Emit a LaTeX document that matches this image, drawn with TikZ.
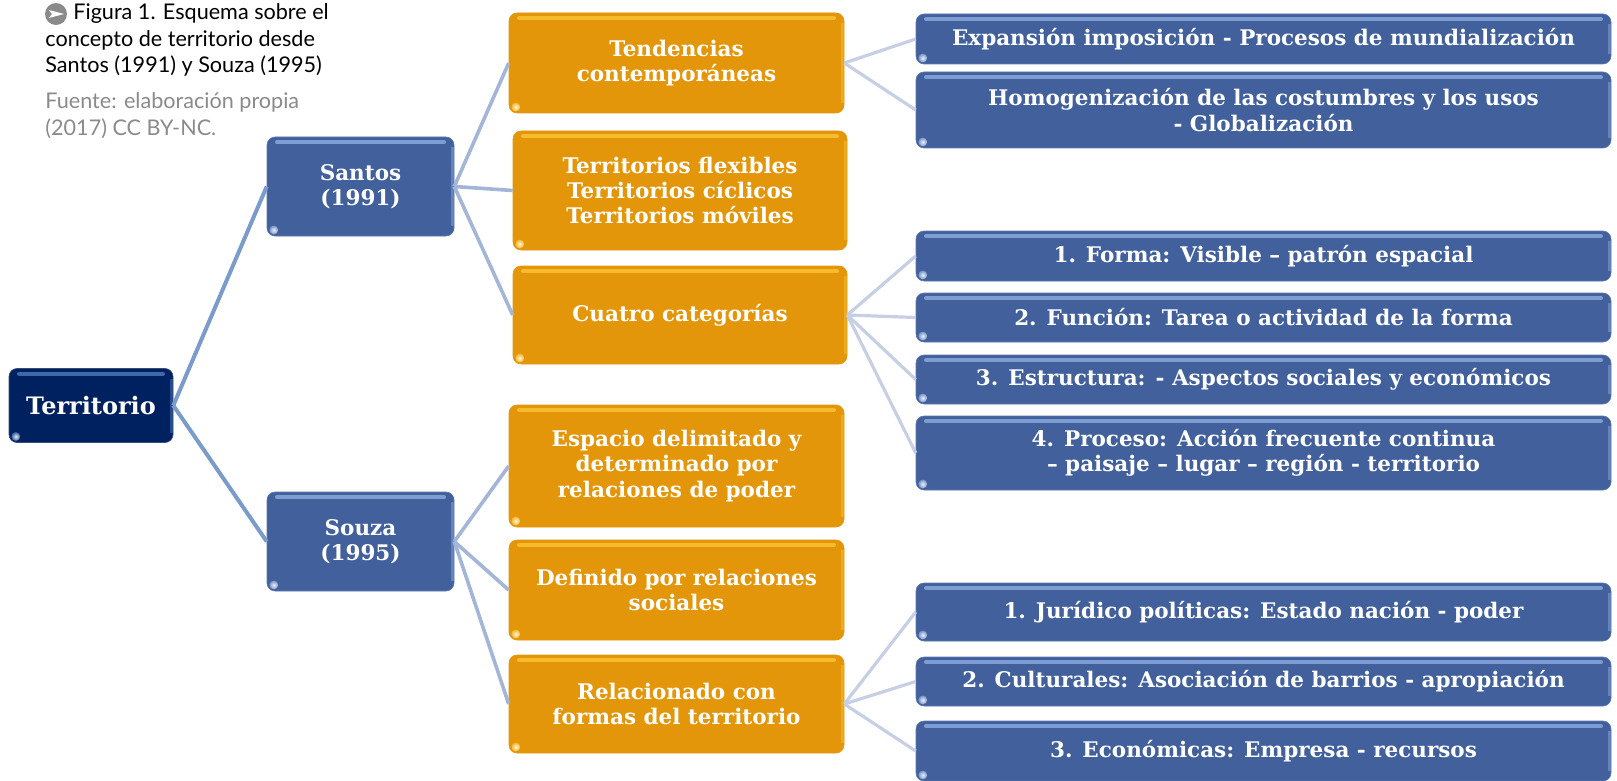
\documentclass[tikz,border=0pt]{standalone}
\usepackage{fontspec}
\setmainfont{DejaVu Serif}
\newfontfamily\capfont{Lato}
\usetikzlibrary{calc}

\definecolor{navyBox}{HTML}{00215F}
\definecolor{blueBox}{HTML}{41609C}
\definecolor{orangeBox}{HTML}{E4960A}
\definecolor{glossNavy}{HTML}{3F68A8}
\definecolor{glossBlue}{HTML}{7E9DD2}
\definecolor{glossOrange}{HTML}{F6BC2E}
\definecolor{lineA}{HTML}{7B9CCB}
\definecolor{lineB}{HTML}{A3B6D8}
\definecolor{lineC}{HTML}{C6CFE3}
\definecolor{capGray}{HTML}{8A8A8A}

\tikzset{
	gloss/.style={
		rounded corners=4pt, inner sep=0pt, align=center, text=white,
		font=\bfseries\fontsize{10.75}{12.7}\selectfont,
		path picture={
			\draw[#1, line width=2pt, line cap=round] ($(path picture bounding box.north west)+(5pt,-2.6pt)$) -- ($(path picture bounding box.north east)+(-5pt,-2.6pt)$);
			\draw[#1, line width=1.2pt, opacity=0.6] ($(path picture bounding box.north east)+(-0.7pt,-5pt)$) -- ($(path picture bounding box.south east)+(-0.7pt,5pt)$);
			\shade[inner color=white, outer color=#1, opacity=0.9] ($(path picture bounding box.south west)+(3.4pt,3pt)$) circle (2.2pt);
		}},
	boxNavy/.style={gloss=glossNavy, fill=navyBox, draw=navyBox!80!white, line width=0.3pt},
	boxBlue/.style={gloss=glossBlue, fill=blueBox, draw=blueBox!85!white, line width=0.3pt},
	boxOrange/.style={gloss=glossOrange, fill=orangeBox, draw=orangeBox, line width=0.3pt},
	capText/.style={anchor=north west, align=left, inner sep=0pt, font=\capfont\fontsize{10.8}{13.4}\selectfont},
	linkA/.style={lineA, line width=2pt},
	linkB/.style={lineB, line width=1.8pt},
	linkC/.style={lineC, line width=1.6pt}
}

\begin{document}
\begin{tikzpicture}[x=0.5pt, y=-0.5pt]

	\useasboundingbox (0,0) rectangle (1617,781);

% Define nodes.

	%root
	\node[boxNavy, minimum width=82pt, minimum height=37pt] (territorio) at (91,405.5) {\fontsize{12}{13}\selectfont Territorio};

	%authors
	\node[boxBlue, minimum width=93.5pt, minimum height=49.5pt] (santos) at (360.5,186.5) {Santos\\(1991)};
	\node[boxBlue, minimum width=93.5pt, minimum height=49.5pt] (souza) at (360.5,541.5) {Souza\\(1995)};

	%Santos branch
	\node[boxOrange, minimum width=167.5pt, minimum height=50pt] (tendencias) at (676.5,63) {Tendencias\\contemporáneas};
	\node[boxOrange, minimum width=167pt, minimum height=59.5pt] (flexibles) at (680,190.5) {Territorios flexibles\\Territorios cíclicos\\Territorios móviles};
	\node[boxOrange, minimum width=167pt, minimum height=49pt] (categorias) at (680,315) {Cuatro categorías};

	%Souza branch
	\node[boxOrange, minimum width=167.5pt, minimum height=61pt] (espacio) at (676.5,466) {Espacio delimitado y\\determinado por\\relaciones de poder};
	\node[boxOrange, minimum width=167.5pt, minimum height=50pt] (definido) at (676.5,590) {Definido por relaciones\\sociales};
	\node[boxOrange, minimum width=167.5pt, minimum height=49pt] (formas) at (676.5,704) {Relacionado con\\formas del territorio};

	%right column
	\node[boxBlue, minimum width=347.5pt, minimum height=25pt] (expansion) at (1263.5,39) {Expansión imposición - Procesos de mundialización};
	\node[boxBlue, minimum width=347.5pt, minimum height=38pt] (homogen) at (1263.5,110) {Homogenización de las costumbres y los usos\\- Globalización};
	\node[boxBlue, minimum width=347.5pt, minimum height=25pt] (forma) at (1263.5,256) {1. Forma: Visible – patrón espacial};
	\node[boxBlue, minimum width=347.5pt, minimum height=24.5pt] (funcion) at (1263.5,317.5) {2. Función: Tarea o actividad de la forma};
	\node[boxBlue, minimum width=347.5pt, minimum height=24.5pt] (estructura) at (1263.5,379.5) {3. Estructura: - Aspectos sociales y económicos};
	\node[boxBlue, minimum width=347.5pt, minimum height=37pt] (proceso) at (1263.5,453) {4. Proceso: Acción frecuente continua\\– paisaje – lugar – región - territorio};
	\node[boxBlue, minimum width=347.5pt, minimum height=29pt] (juridico) at (1263.5,612) {1. Jurídico políticas: Estado nación - poder};
	\node[boxBlue, minimum width=347.5pt, minimum height=24.5pt] (culturales) at (1263.5,681.5) {2. Culturales: Asociación de barrios - apropiación};
	\node[boxBlue, minimum width=347.5pt, minimum height=30pt] (economicas) at (1263.5,751) {3. Económicas: Empresa - recursos};

% Draw lines.

	\draw[linkA] (territorio.east) -- (santos.west);
	\draw[linkA] (territorio.east) -- (souza.west);

	\draw[linkB] (santos.east) -- (tendencias.west);
	\draw[linkB] (santos.east) -- (flexibles.west);
	\draw[linkB] (santos.east) -- (categorias.west);

	\draw[linkB] (souza.east) -- (espacio.west);
	\draw[linkB] (souza.east) -- (definido.west);
	\draw[linkB] (souza.east) -- (formas.west);

	\draw[linkC] (tendencias.east) -- (expansion.west);
	\draw[linkC] (tendencias.east) -- (homogen.west);

	\draw[linkC] (categorias.east) -- (forma.west);
	\draw[linkC] (categorias.east) -- (funcion.west);
	\draw[linkC] (categorias.east) -- (estructura.west);
	\draw[linkC] (categorias.east) -- (proceso.west);

	\draw[linkC] (formas.east) -- (juridico.west);
	\draw[linkC] (formas.east) -- (culturales.west);
	\draw[linkC] (formas.east) -- (economicas.west);

% Draw caption.

	\node[circle, fill=capGray, minimum size=11pt, inner sep=0pt] (icon) at (56,14) {};
	\fill[white] ($(icon)+(-3.6pt,2pt)$) -- ($(icon)+(4pt,0pt)$) -- ($(icon)+(-3.6pt,-2pt)$) -- ($(icon)+(-2pt,0pt)$) -- cycle;

	\node[capText] (figura) at (45,3) {\hspace{14pt}Figura 1. Esquema sobre el\\concepto de territorio desde\\Santos (1991) y Souza (1995)};
	\node[capText, text=capGray] (fuente) at (45,92) {Fuente: elaboración propia\\(2017) CC BY-NC.};

\end{tikzpicture}
\end{document}
